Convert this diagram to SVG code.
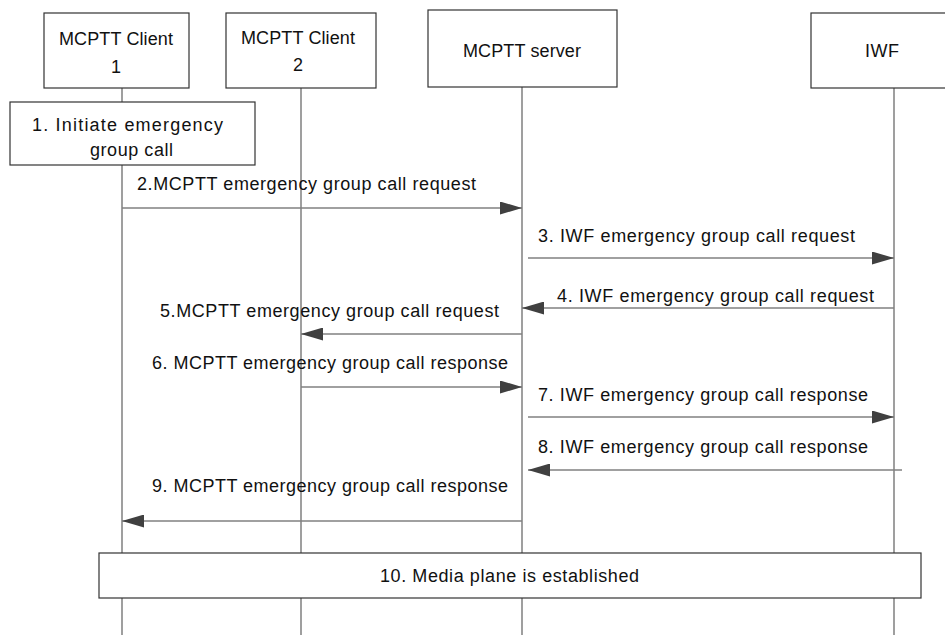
<svg xmlns="http://www.w3.org/2000/svg" width="945" height="635" viewBox="0 0 945 635">
<defs>
<style>
.box{fill:#fff;stroke:#333;stroke-width:1.2}
.life{stroke:#7f7f7f;stroke-width:1.5;fill:none}
.msg{stroke:#808080;stroke-width:1.5;fill:none;marker-end:url(#ah)}
text{font-family:"Liberation Sans",Arial,sans-serif;font-size:18px;fill:#111}
.c{text-anchor:middle}
</style>
<marker id="ah" markerUnits="userSpaceOnUse" markerWidth="22" markerHeight="13" refX="22" refY="6.5" orient="auto">
<path d="M0,0 L22,6.5 L0,13 z" fill="#404040"/>
</marker>
</defs>
<rect width="945" height="635" fill="#fff"/>
<g id="lifelines">
<line class="life" x1="122" y1="88" x2="122" y2="635"/>
<line class="life" x1="301" y1="88" x2="301" y2="635"/>
<line class="life" x1="522" y1="87" x2="522" y2="635"/>
<line class="life" x1="894" y1="88" x2="894" y2="635"/>
</g>
<g id="client1">
<rect class="box" x="44" y="13" width="145" height="75"/>
<text class="c" x="116" y="45" textLength="114">MCPTT Client</text>
<text class="c" x="116" y="73">1</text>
</g>
<g id="client2">
<rect class="box" x="226" y="13" width="150" height="75"/>
<text class="c" x="298" y="44" textLength="114">MCPTT Client</text>
<text class="c" x="298" y="71">2</text>
</g>
<g id="server">
<rect class="box" x="428" y="10" width="189" height="77"/>
<text class="c" x="522" y="57" textLength="118">MCPTT server</text>
</g>
<g id="iwf">
<rect class="box" x="811" y="13" width="170" height="75"/>
<text class="c" x="882" y="57" textLength="34">IWF</text>
</g>
<g id="step1">
<rect class="box" x="10" y="102" width="245" height="63"/>
<text x="32" y="131" textLength="191">1. Initiate  emergency</text>
<text x="90" y="156" textLength="83">group call</text>
</g>
<g id="step10">
<rect class="box" x="99" y="553" width="822" height="45"/>
<text x="380" y="582" textLength="259">10. Media plane is established</text>
</g>
<g id="connectors">
<line class="msg" x1="122" y1="208" x2="522" y2="208"/>
<line class="msg" x1="528" y1="258" x2="894" y2="258"/>
<line class="msg" x1="894" y1="308" x2="522" y2="308"/>
<line class="msg" x1="522" y1="334" x2="301" y2="334"/>
<line class="msg" x1="301" y1="387" x2="522" y2="387"/>
<line class="msg" x1="528" y1="417" x2="894" y2="417"/>
<line class="msg" x1="902" y1="470" x2="528" y2="470"/>
<line class="msg" x1="522" y1="521" x2="122" y2="521"/>
</g>
<g id="labels">
<text x="137" y="190" textLength="339">2.MCPTT emergency group call request</text>
<text x="538" y="242" textLength="317">3. IWF emergency group call request</text>
<text x="557" y="302" textLength="317">4. IWF emergency group call request</text>
<text x="160" y="317" textLength="339">5.MCPTT emergency group call request</text>
<text x="152" y="369" textLength="356">6. MCPTT emergency group call response</text>
<text x="538" y="401" textLength="330">7. IWF emergency group call response</text>
<text x="538" y="453" textLength="330">8. IWF emergency group call response</text>
<text x="152" y="492" textLength="356">9. MCPTT emergency group call response</text>
</g>
</svg>
